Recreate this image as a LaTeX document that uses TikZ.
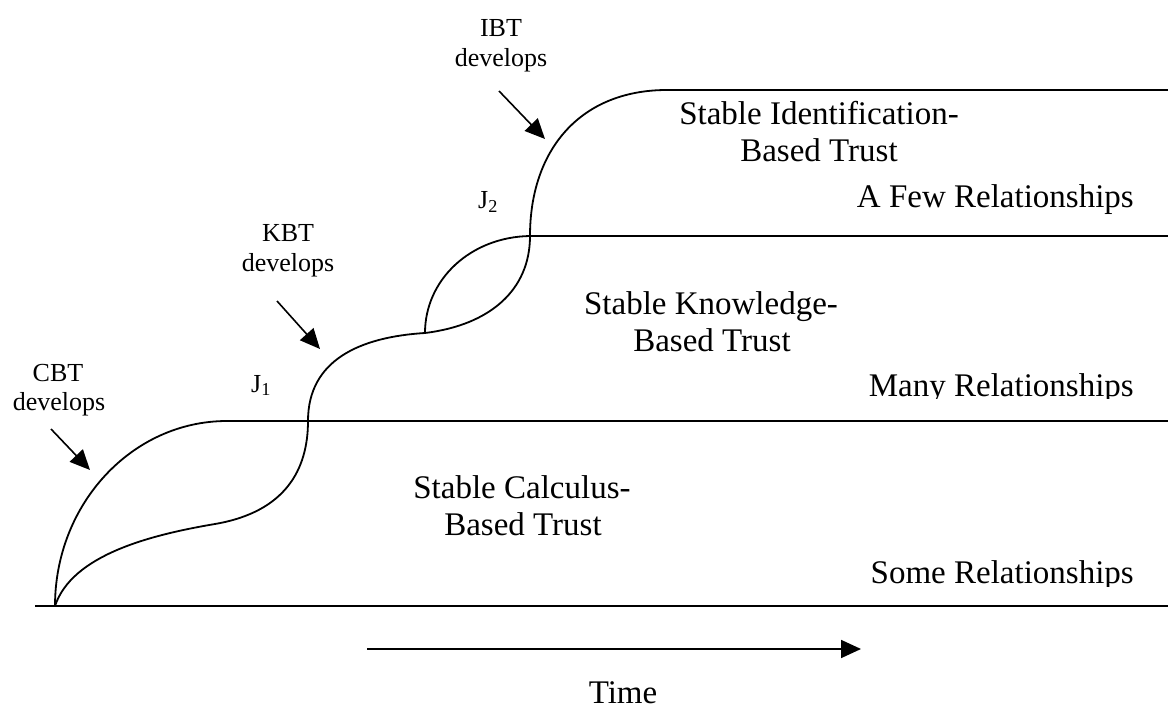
\documentclass[tikz,border=0pt]{standalone}
\usepackage{fontspec}
\setmainfont{Liberation Serif}
\usetikzlibrary{arrows.meta}
\tikzset{
  big/.style={font=\fontsize{33}{36}\selectfont, inner sep=0pt, anchor=base},
  small/.style={font=\fontsize{26}{29}\selectfont, inner sep=0pt, anchor=base},
  rel/.style={font=\fontsize{33}{36}\selectfont, inner sep=0pt, anchor=base east},
  curveline/.style={line width=1.8pt, black},
  levelline/.style={line width=1.8pt, black},
  devarrow/.style={line width=1.6pt, -{Triangle[length=20pt,width=18pt]}},
  timearrow/.style={line width=1.8pt, -{Triangle[length=20pt,width=18pt]}}
}
\begin{document}
\begin{tikzpicture}[x=1pt,y=-1pt]
\useasboundingbox (0,0) rectangle (1168,711);
% key points
\coordinate (O) at (55,606);
\coordinate (L0s) at (35,606);
\coordinate (L0e) at (1168,606);
\coordinate (P1) at (227,421);
\coordinate (L1e) at (1168,421);
\coordinate (Q1) at (215,524);
\coordinate (J1pt) at (308,421);
\coordinate (M) at (425,333);
\coordinate (P2) at (530,236);
\coordinate (L2e) at (1168,236);
\coordinate (P3) at (667,90);
\coordinate (L3e) at (1168,90);
% levels
\draw[levelline] (L0s) -- (L0e);
\draw[levelline] (P1) -- (L1e);
\draw[levelline] (P2) -- (L2e);
\draw[levelline] (P3) -- (L3e);
% CBT curve
\draw[curveline] (O) .. controls (55,504) and (132,421) .. (P1);
% S-curve
\draw[curveline] (O) .. controls (72,555) and (150,535) .. (Q1)
  .. controls (285,512) and (308,470) .. (J1pt)
  .. controls (308,360) and (360,337) .. (M)
  .. controls (490,325) and (530,290) .. (P2)
  .. controls (530,150) and (580,90) .. (P3);
% upper branch
\draw[curveline] (M) .. controls (425,280) and (470,237) .. (P2);
% labels
\node[small] (cbt1) at (58,382) {CBT};
\node[small] (cbt2) at (59,410) {develops};
\node[small] (kbt1) at (288,242) {KBT};
\node[small] (kbt2) at (288,272) {develops};
\node[small] (ibt1) at (501,37) {IBT};
\node[small] (ibt2) at (501,67) {develops};
\node[small] (j1) at (261,392) {J\textsubscript{1}};
\node[small] (j2) at (488,209) {J\textsubscript{2}};
% development arrows
\coordinate (a1s) at (51,429); \coordinate (a1e) at (90,470);
\coordinate (a2s) at (277,301); \coordinate (a2e) at (320,349);
\coordinate (a3s) at (499,91); \coordinate (a3e) at (545,139);
\draw[devarrow] (a1s) -- (a1e);
\draw[devarrow] (a2s) -- (a2e);
\draw[devarrow] (a3s) -- (a3e);
% region texts
\node[big] (c1) at (522,498) {Stable Calculus-};
\node[big] (c2) at (523,535) {Based Trust};
\node[big] (k1) at (711,315) {Stable Knowledge-};
\node[big] (k2) at (712,352) {Based Trust};
\node[big] (i1) at (819,125) {Stable Identification-};
\node[big] (i2) at (819,162) {Based Trust};
\node[rel] (r3) at (1134,208) {A Few Relationships};
\begin{scope}
\clip (840,360) rectangle (1168,399);
\node[rel] (r2) at (1134,397) {Many Relationships};
\end{scope}
\begin{scope}
\clip (840,550) rectangle (1168,586);
\node[rel] (r1) at (1134,583) {Some Relationships};
\end{scope}
% time
\coordinate (ts) at (367,649);
\coordinate (te) at (861,649);
\draw[timearrow] (ts) -- (te);
\node[big] (time) at (623,703) {Time};
\end{tikzpicture}
\end{document}
